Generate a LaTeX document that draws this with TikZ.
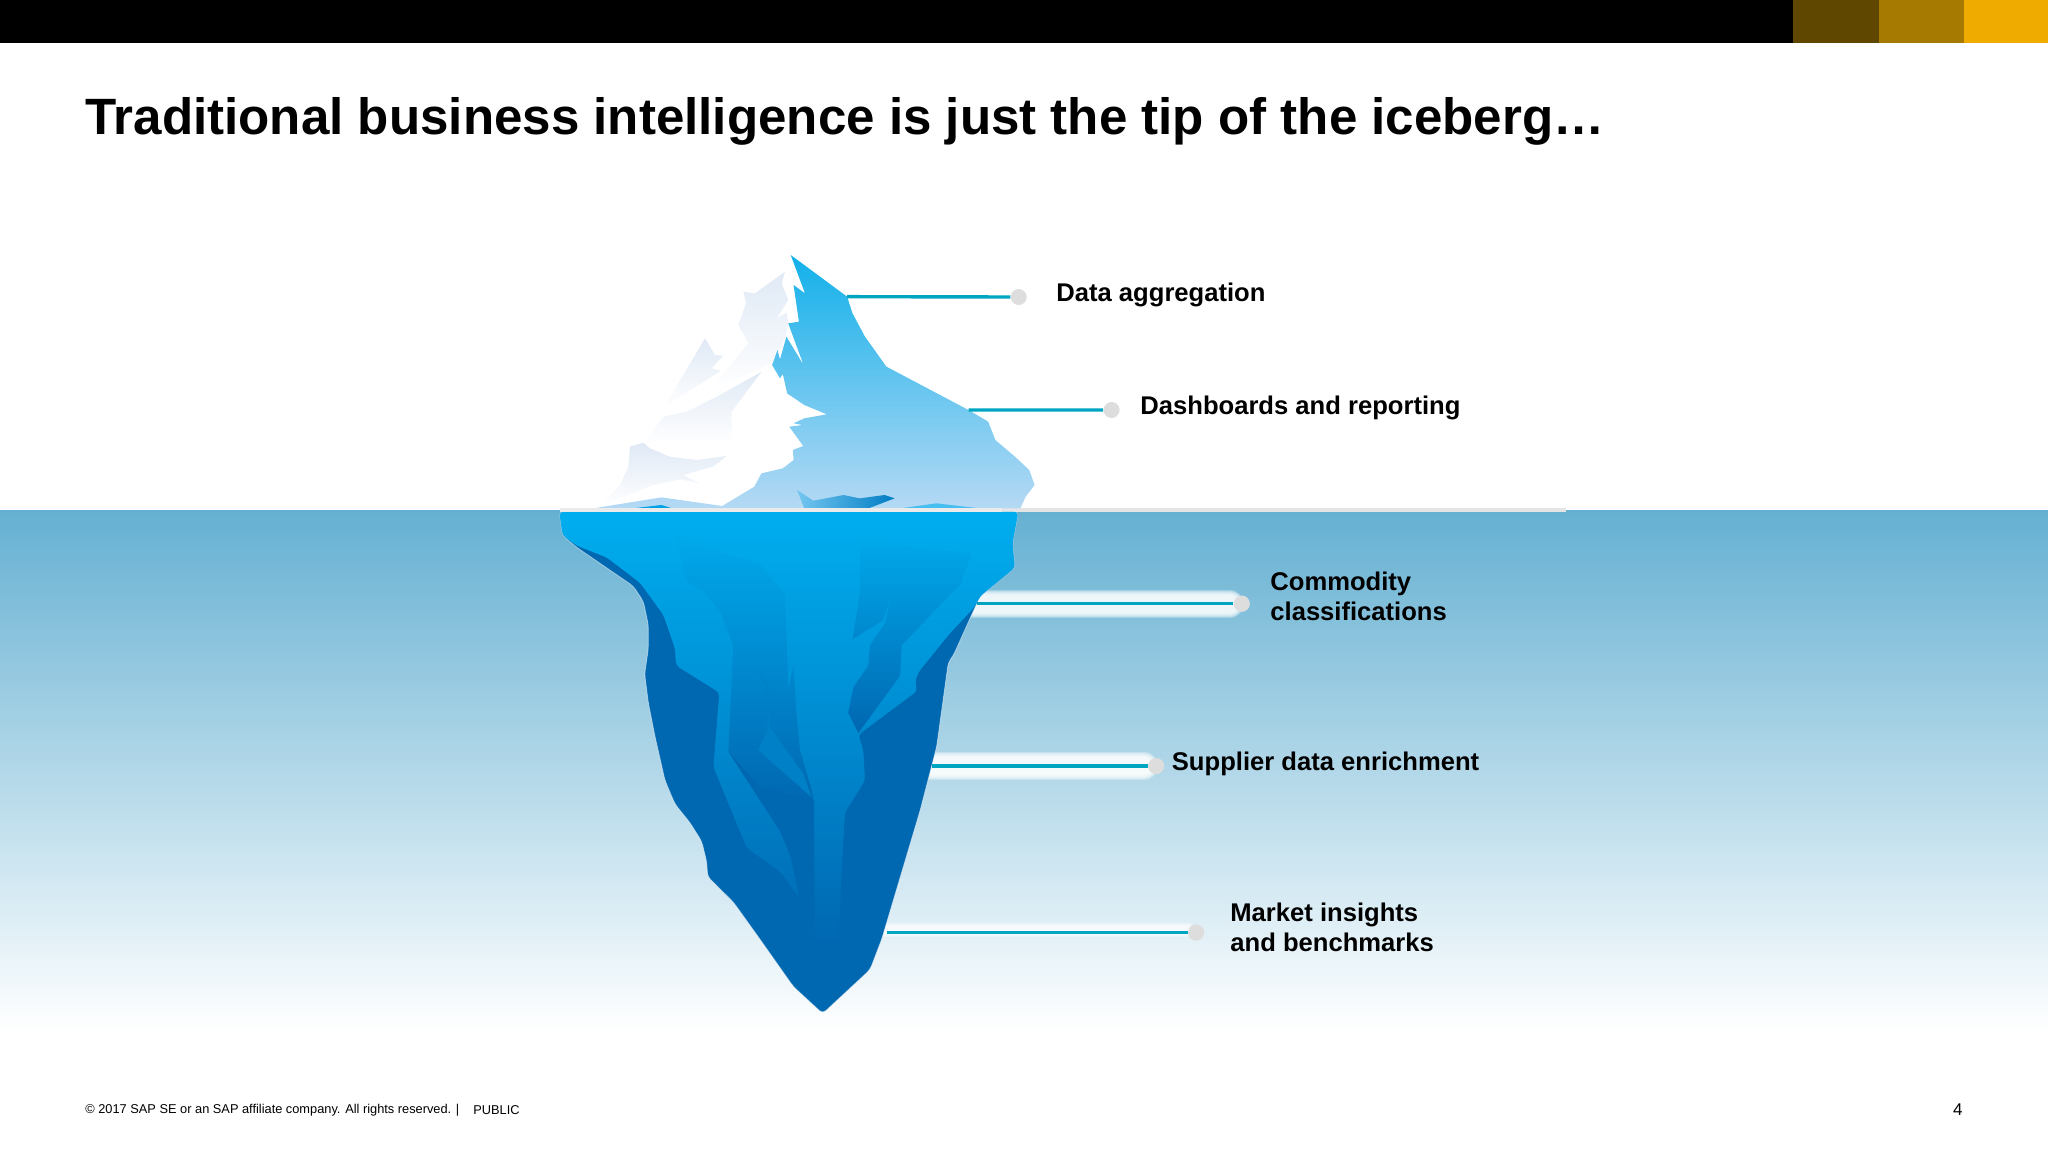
\documentclass[tikz,border=0pt]{standalone}
\usepackage{fontspec}
\setmainfont{Liberation Sans}
\definecolor{barDark}{HTML}{5F4700}
\definecolor{barMid}{HTML}{A67A00}
\definecolor{barGold}{HTML}{F0AB00}
\definecolor{waterTop}{HTML}{65B0D2}
\definecolor{waterMid}{HTML}{A5CADC}
\definecolor{bergLight}{HTML}{00AEEF}
\definecolor{bergMid}{HTML}{0080C6}
\definecolor{bergDark}{HTML}{0067B1}
\definecolor{tipTop}{HTML}{12B0EA}
\definecolor{tipMid}{HTML}{74C6F0}
\definecolor{tipLow}{HTML}{B5D9F4}
\definecolor{snowShade}{HTML}{DFE9F5}
\definecolor{leaderTeal}{HTML}{00A5C2}
\definecolor{dotGrey}{HTML}{DDDDDD}
\tikzset{
	label/.style={anchor=west, inner sep=0pt, font=\fontsize{12.8}{15}\selectfont\bfseries, align=left},
	small/.style={inner sep=0pt, font=\fontsize{6.4}{8}\selectfont},
	leaderdot/.style={circle, fill=dotGrey, inner sep=0pt, minimum size=8pt},
	leader/.style={draw=leaderTeal, line width=1.7pt},
	snow/.style={top color=snowShade, bottom color=white, draw=none},
	glow/.style={white, line width=#1, opacity=.3, line cap=round}
}
\begin{document}
\begin{tikzpicture}[x=.5pt, y=-.5pt]
	\useasboundingbox (0,0) rectangle (2048,1152);
	% top bar
	\fill[black] (0,0) rectangle (1793,43);
	\fill[barDark] (1793,0) rectangle (1879,43);
	\fill[barMid] (1879,0) rectangle (1964,43);
	\fill[barGold] (1964,0) rectangle (2048,43);
	\node[anchor=base west, inner sep=0pt, font=\fontsize{25.55}{30}\selectfont\bfseries] (title) at (85,134) {Traditional business intelligence is just the tip of the iceberg…};
	% water
	\shade[top color=waterTop, middle color=waterMid, bottom color=white] (0,510) rectangle (2048,1032);
	\draw[line width=2pt, color=black!10] (1000,510) -- (1566,510);
	% leader ends
	\node[leaderdot] (dotA) at (1018.7,297) {};
	\node[leaderdot] (dotB) at (1111.6,410) {};
	\node[leaderdot] (dotC) at (1241.7,603.7) {};
	\node[leaderdot] (dotD) at (1156,766) {};
	\node[leaderdot] (dotE) at (1196,932.5) {};
	\coordinate (iceC) at (977,603.7);
	\coordinate (iceD) at (932,766);
	\coordinate (iceE) at (887,932.5);
	\foreach \w in {14pt,13pt,12pt,11pt,10pt,9pt} {
		\draw[glow=\w] ([xshift=-20pt]iceC) -- ([xshift=-6pt]dotC.center);
		\draw[glow=\w] ([xshift=-20pt]iceD) -- ([xshift=-6pt]dotD.center);
	}
	\foreach \w in {7pt,6pt,5pt,4pt} {
		\draw[glow=\w] ([xshift=-20pt,yshift=1.5pt]iceE) -- ([xshift=-4pt,yshift=1.5pt]dotE.center);
	}
	\node[leaderdot] at (dotC) {};
	\node[leaderdot] at (dotD) {};
	\node[leaderdot] at (dotE) {};
	% berg below the water
	\begin{scope}[shift={(540,500)}, xscale=1/3, yscale=1/2.96]
		\fill[bergDark, rounded corners=2pt, draw=white, draw opacity=.5, line width=.4pt] (58,35) -- (68,105) -- (110,140) -- (280,255) -- (310,300) -- (325,370) -- (325,440) -- (314,515) -- (325,600) -- (345,700) -- (375,830) -- (405,900) -- (450,955) -- (485,1010) -- (500,1070) -- (503,1115) -- (580,1190) -- (660,1300) -- (760,1440) -- (848,1520) -- (990,1390) -- (1025,1300) -- (1140,920) -- (1190,730) -- (1225,480) -- (1240,460) -- (1320,285) -- (1425,200) -- (1417,130) -- (1435,35) -- cycle;
		\shade[top color=bergLight, middle color=bergMid, bottom color=bergDark, rounded corners=2pt] (58,35) -- (68,105) -- (110,135) -- (200,170) -- (300,245) -- (370,340) -- (405,440) -- (408,490) -- (538,570) -- (520,790) -- (620,1030) -- (720,1100) -- (780,1180) -- (825,1330) -- (895,1330) -- (905,1100) -- (915,925) -- (975,830) -- (970,740) -- (955,695) -- (1132,565) -- (1125,540) -- (1135,510) -- (1225,400) -- (1305,315) -- (1320,285) -- (1425,200) -- (1417,130) -- (1435,35) -- cycle;
		\shade[top color=bergLight!90!bergMid, middle color=bergDark!85!bergLight, bottom color=bergDark] (405,100) -- (560,160) -- (660,190) -- (735,280) -- (745,560) -- (760,490) -- (770,640) -- (780,740) -- (815,860) -- (822,900) -- (660,860) -- (565,745) -- (580,430) -- (540,330) -- (490,270) -- (440,240) -- cycle;
		\fill[bergDark] (565,745) -- (660,850) -- (822,890) -- (825,1330) -- (780,1180) -- (750,1050) -- (720,980) -- cycle;
		\shade[top color=bergLight!87!bergMid, middle color=bergMid!75!bergDark, bottom color=bergDark] (960,120) -- (1295,160) -- (1260,250) -- (1085,430) -- (1080,520) -- (955,690) -- (925,630) -- (940,555) -- (985,490) -- (990,430) -- (1035,365) -- (1052,290) -- (1030,355) -- (938,412) -- (960,270) -- cycle;
		\fill[bergMid] (655,510) -- (685,550) -- (688,670) -- (790,810) -- (815,880) -- (655,740) -- (682,680) -- (682,555) -- cycle;
	\end{scope}
	% snow on the tip
	\begin{scope}[shift={(600,240)}, scale=1/3]
		\shade[snow] (555,95) -- (545,130) -- (565,180) -- (530,235) -- (560,218) -- (565,248) -- (555,295) -- (530,345) -- (515,370) -- (440,405) -- (330,450) -- (445,310) -- (415,255) -- (438,190) -- (430,155) -- (465,160) -- cycle;
		\shade[snow] (315,295) -- (345,345) -- (370,347) -- (335,385) -- (362,393) -- (280,445) -- (190,505) -- cycle;
		\shade[snow] (485,395) -- (395,515) -- (395,610) -- (130,610) -- (190,530) -- (260,515) -- (360,465) -- cycle;
		\shade[snow] (90,620) -- (130,608) -- (150,625) -- (210,650) -- (290,660) -- (380,648) -- (340,680) -- (250,705) -- (300,730) -- (240,718) -- (160,735) -- (0,800) -- (60,735) -- (85,680) -- cycle;
	\end{scope}
	% berg above the water
	\begin{scope}[shift={(540,230)}, xscale=1/2.8, yscale=1/3]
		\shade[top color=tipTop, middle color=tipMid, bottom color=tipLow] (702,75) -- (860,200) -- (875,250) -- (910,320) -- (970,410) -- (1200,540) -- (1255,575) -- (1275,630) -- (1330,680) -- (1370,720) -- (1385,765) -- (1360,800) -- (1345,835) -- (150,835) -- (340,802) -- (510,828) -- (600,770) -- (620,730) -- (680,715) -- (710,690) -- (708,660) -- (737,648) -- (698,590) -- (735,585) -- (710,580) -- (740,565) -- (803,553) -- (740,525) -- (692,490) -- (680,432) -- (672,445) -- (650,405) -- (665,360) -- (672,388) -- (690,320) -- (738,405) -- (695,280) -- (725,275) -- (710,165) -- (742,190) -- cycle;
		\fill[bergLight!85!bergDark] (260,835) -- (340,825) -- (370,835) -- cycle;
		\shade[left color=tipMid, right color=bergDark!70!bergLight] (720,780) -- (765,812) -- (850,795) -- (895,805) -- (965,795) -- (993,805) -- (920,835) -- (740,835) -- cycle;
		\fill[bergLight!60!tipLow] (1010,835) -- (1110,820) -- (1230,835) -- cycle;
		\coordinate (tipA) at (860,200);
		\coordinate (tipB) at (1200,540);
	\end{scope}
	\draw[line width=2pt, color=white!92!black] (560,510) -- (1002,510);
	% leaders
	\draw[leader] (tipA) -- (dotA);
	\draw[leader] (tipB) -- (dotB);
	\draw[leader] (iceC) -- (dotC);
	\draw[leader] (iceD) -- (dotD);
	\draw[leader] (iceE) -- (dotE);
	% labels
	\node[label] (dataagg) at (1056,295) {Data aggregation};
	\node[label] (dashboards) at (1140,408) {Dashboards and reporting};
	\node[label] (commodity) at (1270,596) {Commodity\\classifications};
	\node[label] (supplier) at (1171.5,764) {Supplier data enrichment};
	\node[label] (market) at (1230,927) {Market insights\\and benchmarks};
	% footer
	\node[small, anchor=west] (copyright) at (85,1110) {© 2017 SAP SE or an SAP affiliate company. All rights reserved. |};
	\node[small, anchor=west] (public) at (473,1110) {PUBLIC};
	\node[anchor=east, inner sep=0pt, font=\fontsize{8.5}{10}\selectfont] (pagenum) at (1963,1110) {4};
\end{tikzpicture}
\end{document}
